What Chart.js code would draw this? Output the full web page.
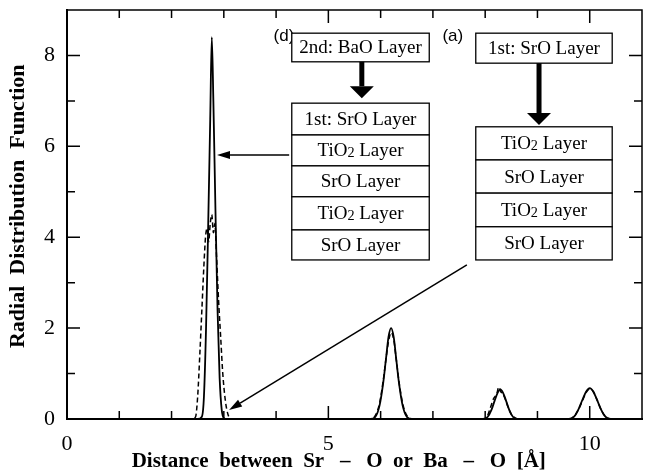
<!DOCTYPE html>
<html>
<head>
<meta charset="utf-8">
<script src="https://cdn.jsdelivr.net/npm/chart.js@4.4.0/dist/chart.umd.min.js"></script>
<style>
  html, body { margin: 0; padding: 0; background: #fff; }
</style>
</head>
<body>
<canvas id="rdfChart" width="646" height="475"></canvas>
<script>
// Solid curve (narrow first peak)
const solidX = [0, 2.5, 2.58, 2.62, 2.66, 2.7, 2.74, 2.77, 2.8, 2.84, 2.88, 2.92, 2.96, 3.0, 3.05,
  5.8, 5.9, 5.98, 6.05, 6.1, 6.15, 6.2, 6.25, 6.3, 6.35, 6.42, 6.5, 6.6,
  7.95, 8.05, 8.12, 8.18, 8.24, 8.29, 8.34, 8.4, 8.46, 8.53, 8.62,
  9.6, 9.7, 9.78, 9.86, 9.93, 10.0, 10.07, 10.14, 10.22, 10.3, 10.4, 11];
const solidY = [0, 0, 0.05, 0.5, 2.0, 4.2, 6.6, 8.4, 7.0, 4.6, 2.4, 0.9, 0.2, 0.02, 0,
  0, 0.05, 0.3, 0.8, 1.3, 1.8, 2.0, 1.8, 1.3, 0.8, 0.3, 0.05, 0,
  0, 0.05, 0.2, 0.4, 0.58, 0.65, 0.58, 0.4, 0.2, 0.05, 0,
  0, 0.05, 0.2, 0.42, 0.6, 0.68, 0.6, 0.42, 0.2, 0.05, 0, 0];

// Dashed curve (broader first peak)
const dashedX = [0, 2.4, 2.46, 2.5, 2.54, 2.58, 2.62, 2.65, 2.68, 2.71, 2.74, 2.77, 2.8, 2.83, 2.86, 2.9, 2.94, 2.98, 3.03, 3.08, 3.14,
  5.8, 5.9, 5.98, 6.05, 6.1, 6.15, 6.2, 6.25, 6.3, 6.36, 6.43, 6.5, 6.6,
  7.95, 8.04, 8.1, 8.16, 8.22, 8.26, 8.3, 8.34, 8.38, 8.44, 8.5, 8.58, 8.65,
  9.6, 9.7, 9.78, 9.86, 9.93, 10.0, 10.07, 10.14, 10.22, 10.3, 10.4, 11];
const dashedY = [0, 0, 0.05, 0.5, 1.4, 2.4, 3.4, 4.0, 4.2, 3.9, 4.3, 4.5, 4.1, 4.3, 3.6, 2.6, 1.8, 1.0, 0.4, 0.1, 0,
  0, 0.08, 0.35, 0.85, 1.3, 1.7, 1.9, 1.75, 1.3, 0.75, 0.3, 0.08, 0,
  0, 0.06, 0.25, 0.45, 0.55, 0.7, 0.6, 0.55, 0.45, 0.25, 0.1, 0.02, 0,
  0, 0.06, 0.2, 0.4, 0.58, 0.66, 0.6, 0.42, 0.2, 0.06, 0, 0];

const xTickLabels = [0, 5, 10];
const yTickLabels = [0, 2, 4, 6, 8];

// Layer stacks drawn as annotations
const stackD = ['1st: SrO Layer', 'TiO2 Layer', 'SrO Layer', 'TiO2 Layer', 'SrO Layer'];
const stackA = ['TiO2 Layer', 'SrO Layer', 'TiO2 Layer', 'SrO Layer'];

const toPoints = (xs, ys) => xs.map((x, i) => ({ x: x, y: ys[i] }));

// draws text, shrinking the "2" in TiO2
function richText(ctx, text, cx, cy, size) {
  const parts = text.startsWith('TiO2')
    ? [['TiO', size, 0], ['2', size * 0.75, 2], [text.slice(4), size, 0]]
    : [[text, size, 0]];
  let total = 0;
  parts.forEach(p => { ctx.font = p[1] + 'px "Liberation Serif"'; total += ctx.measureText(p[0]).width; });
  let x = cx - total / 2;
  ctx.textAlign = 'left';
  ctx.textBaseline = 'middle';
  parts.forEach(p => {
    ctx.font = p[1] + 'px "Liberation Serif"';
    ctx.fillText(p[0], x, cy + p[2]);
    x += ctx.measureText(p[0]).width;
  });
}

function arrow(ctx, x1, y1, x2, y2, lw, headL, headW) {
  const a = Math.atan2(y2 - y1, x2 - x1);
  const bx = x2 - Math.cos(a) * headL, by = y2 - Math.sin(a) * headL;
  ctx.lineWidth = lw;
  ctx.beginPath();
  ctx.moveTo(x1, y1);
  ctx.lineTo(bx, by);
  ctx.stroke();
  ctx.beginPath();
  ctx.moveTo(x2, y2);
  ctx.lineTo(bx + Math.sin(a) * headW / 2, by - Math.cos(a) * headW / 2);
  ctx.lineTo(bx - Math.sin(a) * headW / 2, by + Math.cos(a) * headW / 2);
  ctx.closePath();
  ctx.fill();
}

const frameTicks = {
  id: 'frameTicks',
  afterDraw(chart) {
    const { ctx, chartArea: a, scales: { x, y } } = chart;
    ctx.save();
    ctx.strokeStyle = '#000';
    ctx.lineWidth = 1.5;
    ctx.beginPath();
    ctx.moveTo(a.left, a.top); ctx.lineTo(a.right, a.top); ctx.lineTo(a.right, a.bottom);
    ctx.stroke();
    for (let v = 1; v < 11; v++) {
      const px = x.getPixelForValue(v);
      const len = xTickLabels.includes(v) ? 13 : 8;
      ctx.beginPath();
      ctx.moveTo(px, a.bottom); ctx.lineTo(px, a.bottom - len);
      ctx.moveTo(px, a.top); ctx.lineTo(px, a.top + len);
      ctx.stroke();
    }
    for (let v = 1; v < 9; v++) {
      const py = y.getPixelForValue(v);
      const len = yTickLabels.includes(v) ? 13 : 8;
      ctx.beginPath();
      ctx.moveTo(a.left, py); ctx.lineTo(a.left + len, py);
      ctx.moveTo(a.right, py); ctx.lineTo(a.right - len, py);
      ctx.stroke();
    }
    ctx.restore();
  }
};

const layerNotes = {
  id: 'layerNotes',
  afterDraw(chart) {
    const { ctx, scales: { x, y } } = chart;
    const X = v => x.getPixelForValue(v), Y = v => y.getPixelForValue(v);
    ctx.save();
    ctx.fillStyle = '#000';
    ctx.strokeStyle = '#000';

    function box(x0, x1, y0, y1, text) {
      ctx.fillStyle = '#fff';
      ctx.fillRect(X(x0), Y(y0), X(x1) - X(x0), Y(y1) - Y(y0));
      ctx.fillStyle = '#000';
      ctx.lineWidth = 1.3;
      ctx.strokeRect(X(x0), Y(y0), X(x1) - X(x0), Y(y1) - Y(y0));
      richText(ctx, text, (X(x0) + X(x1)) / 2, (Y(y0) + Y(y1)) / 2 + 1, 19);
    }

    // panel labels
    ctx.font = '17px "Liberation Sans"';
    ctx.textAlign = 'center'; ctx.textBaseline = 'middle';
    ctx.fillText('(d)', X(4.15), Y(8.42));
    ctx.fillText('(a)', X(7.38), Y(8.42));

    // (d) panel
    box(4.30, 6.93, 8.49, 7.86, '2nd: BaO Layer');
    arrow(ctx, X(5.64), Y(7.86), X(5.64), Y(7.06), 5, 12, 24);
    const rowsD = [6.95, 6.25, 5.57, 4.89, 4.16, 3.50];
    stackD.forEach((t, i) => box(4.30, 6.93, rowsD[i], rowsD[i + 1], t));

    // (a) panel
    box(7.82, 10.43, 8.49, 7.83, '1st: SrO Layer');
    arrow(ctx, X(9.03), Y(7.83), X(9.03), Y(6.47), 5, 12, 24);
    const rowsA = [6.43, 5.70, 4.97, 4.23, 3.50];
    stackA.forEach((t, i) => box(7.82, 10.43, rowsA[i], rowsA[i + 1], t));

    // pointer arrows
    arrow(ctx, X(4.25), Y(5.81), X(2.87), Y(5.81), 1.5, 13, 8);
    arrow(ctx, X(7.65), Y(3.39), X(3.10), Y(0.20), 1.5, 13, 8);
    ctx.restore();
  }
};

const ctx = document.getElementById('rdfChart').getContext('2d');
const rdfChart = new Chart(ctx, {
  type: 'line',
  data: {
    datasets: [{
      data: toPoints(solidX, solidY),
      borderColor: '#000',
      borderWidth: 1.8,
      pointRadius: 0,
      cubicInterpolationMode: 'monotone',
      fill: false
    }, {
      data: toPoints(dashedX, dashedY),
      borderColor: '#000',
      borderWidth: 1.5,
      borderDash: [5, 3],
      pointRadius: 0,
      cubicInterpolationMode: 'monotone',
      fill: false
    }]
  },
  options: {
    responsive: false,
    animation: false,
    devicePixelRatio: 1,
    layout: { padding: { top: 10, right: 4, left: 0, bottom: 0 } },
    plugins: { legend: { display: false }, tooltip: { enabled: false } },
    scales: {
      x: {
        type: 'linear', min: 0, max: 11,
        grid: { display: false, drawTicks: false },
        border: { display: true, color: '#000', width: 2 },
        afterBuildTicks: s => { s.ticks = xTickLabels.map(v => ({ value: v })); },
        afterFit: s => { s.height = 56; s.paddingLeft = 0; s.paddingRight = 0; },
        ticks: { padding: 12, color: '#000', font: { family: 'Liberation Serif', size: 22 }, maxRotation: 0 },
        title: {
          // trailing spaces nudge the centred title left, as in the original
          display: true, text: 'Distance  between  Sr   –   O  or  Ba   –   O  [Å]      ', color: '#000',
          font: { family: 'Liberation Serif', size: 21, weight: 'bold' }, padding: { top: 0, bottom: 1 }
        }
      },
      y: {
        type: 'linear', min: 0, max: 9,
        grid: { display: false, drawTicks: false },
        border: { display: true, color: '#000', width: 2 },
        afterBuildTicks: s => { s.ticks = yTickLabels.map(v => ({ value: v })); },
        afterFit: s => { s.width = 67; s.paddingTop = 0; s.paddingBottom = 0; },
        ticks: { padding: 12, color: '#000', font: { family: 'Liberation Serif', size: 22 } },
        title: {
          display: true, text: '   Radial  Distribution  Function', color: '#000',
          font: { family: 'Liberation Serif', size: 22, weight: 'bold' }, padding: { top: 5, bottom: 0 }
        }
      }
    }
  },
  plugins: [frameTicks, layerNotes]
});
</script>
</body>
</html>
